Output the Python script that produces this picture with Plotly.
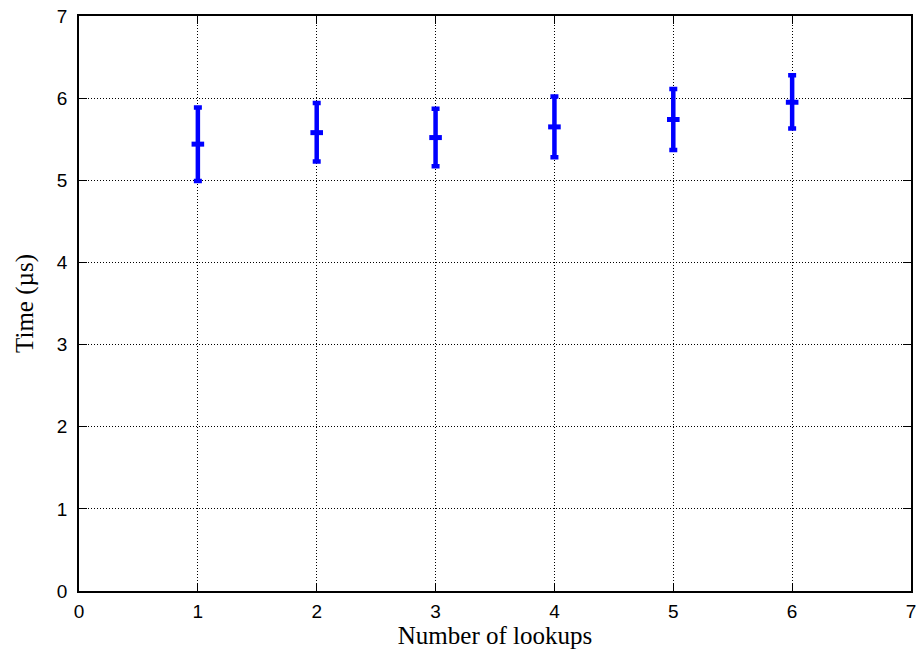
import plotly.graph_objects as go

lookups = [1, 2, 3, 4, 5, 6]
mean_time = [5.44, 5.58, 5.52, 5.65, 5.74, 5.95]
upper_time = [5.885, 5.94, 5.87, 6.02, 6.11, 6.28]
lower_time = [4.99, 5.23, 5.17, 5.28, 5.37, 5.63]

err_plus = [u - m for u, m in zip(upper_time, mean_time)]
err_minus = [m - l for m, l in zip(mean_time, lower_time)]

BLUE = "#0000ff"

fig = go.Figure()
fig.add_trace(go.Scatter(
    x=lookups, y=mean_time, mode="markers",
    marker=dict(symbol="line-ew", size=9, color=BLUE, line=dict(color=BLUE, width=5)),
    error_y=dict(type="data", symmetric=False, array=err_plus, arrayminus=err_minus,
                 color=BLUE, thickness=4.5, width=4),
    showlegend=False,
))

axis_common = dict(
    showgrid=True, gridcolor="black", griddash="1px,2px", gridwidth=1,
    showline=True, linecolor="black", linewidth=1.5, mirror="ticks",
    ticks="inside", ticklen=8, tickcolor="black", tickwidth=1,
    zeroline=False, dtick=1,
    tickfont=dict(family="Liberation Sans, Arial, sans-serif", size=19, color="black"),
)

fig.update_layout(
    width=922, height=655,
    margin=dict(l=79, r=6, t=16, b=64),
    paper_bgcolor="white", plot_bgcolor="white",
    xaxis=dict(range=[0, 7], **axis_common, ticklabelstandoff=2,
               title=dict(text="Number of lookups", standoff=5,
                          font=dict(family="Liberation Serif, Times New Roman, serif", size=25, color="black"))),
    yaxis=dict(range=[0, 7], **axis_common, ticklabelstandoff=6,
               title=dict(text="Time (µs)", standoff=16,
                          font=dict(family="Liberation Serif, Times New Roman, serif", size=25, color="black"))),
)

fig.write_html("out.html")
